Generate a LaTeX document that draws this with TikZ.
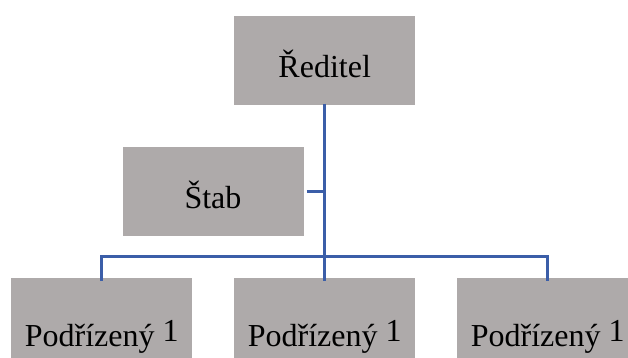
\documentclass[tikz,border=0pt]{standalone}
\usepackage{fontspec}
\setmainfont{Liberation Serif}
\definecolor{boxgray}{HTML}{AEAAAA}
\definecolor{linkblue}{HTML}{3B5EA8}
\begin{document}
\begin{tikzpicture}[x=1pt,y=-1pt,
  orgbox/.style={rectangle, fill=boxgray, draw=white, line width=0.6pt, minimum width=182pt, minimum height=90pt, inner sep=0pt,
    text height=36pt, text depth=0.6pt, font=\fontsize{32}{38}\selectfont},
  lowbox/.style={orgbox, minimum height=102.6pt},
  conn/.style={draw=linkblue, line width=3pt}]
\useasboundingbox (0,0) rectangle (628,358);
\fill[white] (0,0) rectangle (628,358);
\node[orgbox] (dir) at (324.7,60) {Ředitel};
\node[orgbox] (stab) at (213,191) {Štab};
\node[lowbox] (p1) at (101.7,329) {Podřízený \raisebox{5pt}{1}};
\node[lowbox] (p2) at (324.7,329) {Podřízený \raisebox{5pt}{1}};
\node[lowbox] (p3) at (547.7,329) {Podřízený \raisebox{5pt}{1}};
\coordinate (bus) at (0,256);
\draw[conn] ([yshift=1.7pt]dir.south) -- ([yshift=-3.4pt]p2.north);
\draw[conn] ([yshift=-3.4pt]p1.north) -- (p1.north |- bus) -- (p3.north |- bus) -- ([yshift=-3.4pt]p3.north);
\draw[conn] ([xshift=2.5pt]stab.east) -- (stab.east -| dir.south);
\end{tikzpicture}
\end{document}
